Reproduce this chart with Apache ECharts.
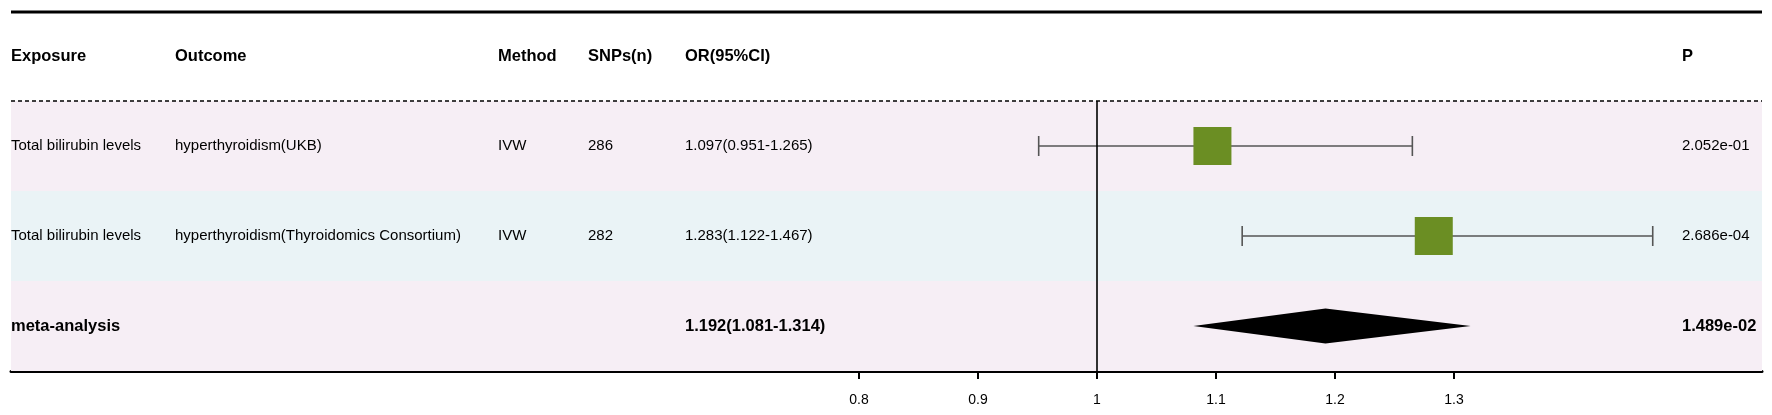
<!DOCTYPE html>
<html><head><meta charset="utf-8">
<script src="https://cdn.jsdelivr.net/npm/echarts@6/dist/echarts.min.js"></script>
<style>html,body{margin:0;padding:0;background:#fff}#c{width:1772px;height:415px}</style>
</head><body><div id="c"></div>
<script>
// ---- data ----
const headers = ['Exposure', 'Outcome', 'Method', 'SNPs(n)', 'OR(95%CI)', 'P'];
const rowKeys = ['UKB', 'Thyroidomics Consortium', 'meta-analysis'];
const exposure = ['Total bilirubin levels', 'Total bilirubin levels', 'meta-analysis'];
const outcome = ['hyperthyroidism(UKB)', 'hyperthyroidism(Thyroidomics Consortium)', ''];
const method = ['IVW', 'IVW', ''];
const snps = ['286', '282', ''];
const orText = ['1.097(0.951-1.265)', '1.283(1.122-1.467)', '1.192(1.081-1.314)'];
const pText = ['2.052e-01', '2.686e-04', '1.489e-02'];
const orEst = [1.097, 1.283, 1.192];
const ciLow = [0.951, 1.122, 1.081];
const ciHigh = [1.265, 1.467, 1.314];
const rowKind = ['study', 'study', 'summary'];
const tickValues = [0.8, 0.9, 1, 1.1, 1.2, 1.3];
const refValue = 1;

// ---- layout ----
const gridLeft = 11, gridRight = 1762, gridTop = 101, gridBottom = 371;
const refX = 1097, pxPerUnit = 1190;
const xMin = refValue - (refX - gridLeft) / pxPerUnit;
const xMax = refValue + (gridRight - refX) / pxPerUnit;
const colX = [11, 175, 498, 588, 685, 1682];
const headerY = 56;
const FONT = "'Liberation Sans', Arial, sans-serif";
const regFont = '15px ' + FONT;
const boldFont = 'bold 16.5px ' + FONT;
const bandColors = ['#F6EEF5', '#EAF3F6'];
const boxColor = '#6B8E23';
const boxW = 38, boxH = 38, capH = 20, diamondH = 35;

const columns = [exposure, outcome, method, snps, orText, pText];

const chart = echarts.init(document.getElementById('c'), null, {renderer: 'canvas'});

const rowIdx = rowKeys.map((_, i) => [refValue, i]);

const option = {
  animation: false,
  backgroundColor: '#fff',
  grid: {left: gridLeft, right: 1772 - gridRight, top: gridTop, bottom: 415 - gridBottom, containLabel: false},
  xAxis: {
    type: 'value', min: xMin, max: xMax,
    splitLine: {show: false},
    axisLine: {show: true, lineStyle: {color: '#000', width: 3}},
    axisTick: {show: true, customValues: tickValues, length: 8, lineStyle: {color: '#000', width: 2}},
    axisLabel: {show: true, customValues: tickValues, color: '#000', fontSize: 14, fontFamily: FONT, margin: 22,
      formatter: v => String(+v.toFixed(1))}
  },
  yAxis: {
    type: 'category', data: rowKeys, inverse: true,
    axisLine: {show: false}, axisTick: {show: false}, axisLabel: {show: false}, splitLine: {show: false}
  },
  graphic: [
    {type: 'line', shape: {x1: gridLeft, y1: 12, x2: gridRight, y2: 12}, style: {stroke: '#000', lineWidth: 3}, z: 10},
    {type: 'line', shape: {x1: gridLeft, y1: gridTop, x2: gridRight, y2: gridTop}, style: {stroke: '#000', lineWidth: 1.5, lineDash: [4, 3]}, z: 10}
  ].concat(headers.map((h, c) => ({
    type: 'text', x: colX[c], y: headerY, z: 10,
    style: {text: h, font: boldFont, fill: '#000', align: 'left', verticalAlign: 'middle'}
  }))),
  series: [
    {
      type: 'custom', name: 'bands', z: 1, silent: true,
      data: rowIdx, encode: {x: 0, y: 1},
      renderItem(params, api) {
        const i = api.value(1);
        const cs = params.coordSys;
        const yc = api.coord([refValue, i])[1];
        const h = api.size([0, 1])[1];
        return {type: 'rect', shape: {x: cs.x, y: yc - h / 2, width: cs.width, height: h},
          style: {fill: bandColors[i % 2]}};
      }
    },
    {
      type: 'custom', name: 'table', z: 3, silent: true,
      data: rowIdx, encode: {x: 0, y: 1},
      renderItem(params, api) {
        const i = api.value(1);
        const yc = api.coord([refValue, i])[1];
        const font = rowKind[i] === 'summary' ? boldFont : regFont;
        return {type: 'group', children: columns.map((col, c) => ({
          type: 'text', x: colX[c], y: yc,
          style: {text: col[i], font: font, fill: '#000', align: 'left', verticalAlign: 'middle'}
        }))};
      }
    },
    {
      type: 'custom', name: 'forest', z: 4, silent: true,
      data: orEst.map((e, i) => [i, e, ciLow[i], ciHigh[i]]),
      encode: {y: 0, x: [1, 2, 3]},
      renderItem(params, api) {
        const i = api.value(0);
        const pE = api.coord([api.value(1), i]);
        const pL = api.coord([api.value(2), i]);
        const pH = api.coord([api.value(3), i]);
        const y = pE[1];
        if (rowKind[i] === 'summary') {
          return {type: 'polygon', shape: {points: [[pL[0], y], [pE[0], y - diamondH / 2], [pH[0], y], [pE[0], y + diamondH / 2]]},
            style: {fill: '#000'}};
        }
        const ls = {stroke: '#555', lineWidth: 1.6};
        return {type: 'group', children: [
          {type: 'line', shape: {x1: pL[0], y1: y, x2: pH[0], y2: y}, style: ls},
          {type: 'line', shape: {x1: pL[0], y1: y - capH / 2, x2: pL[0], y2: y + capH / 2}, style: ls},
          {type: 'line', shape: {x1: pH[0], y1: y - capH / 2, x2: pH[0], y2: y + capH / 2}, style: ls},
          {type: 'rect', shape: {x: pE[0] - boxW / 2, y: y - boxH / 2, width: boxW, height: boxH}, style: {fill: boxColor}}
        ]};
      },
      markLine: {
        silent: true, symbol: 'none', label: {show: false},
        lineStyle: {color: '#000', width: 1.6, type: 'solid'},
        data: [{xAxis: refValue}]
      }
    }
  ]
};
chart.setOption(option);
</script>
</body></html>
